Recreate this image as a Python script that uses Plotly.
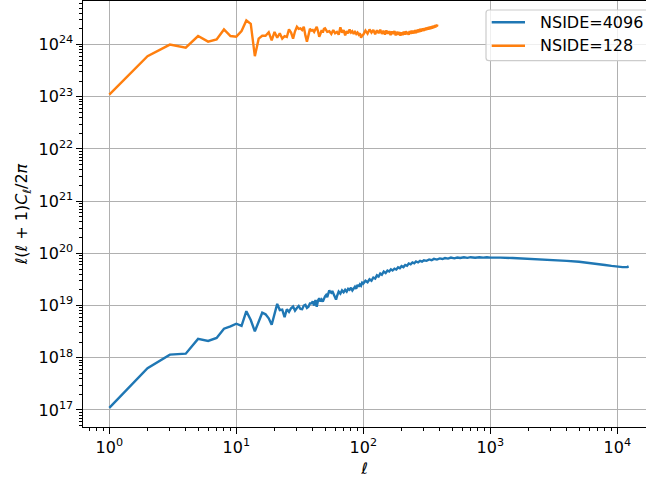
import plotly.graph_objects as go

# Angular power spectrum l(l+1)C_l/2pi for two HEALPix resolutions
ell_4096 = [1, 2, 3, 4, 5, 6, 7, 8, 9, 10, 11, 12, 13, 14, 15, 16, 17, 18, 19, 20,
            21, 22, 23, 24, 25, 26, 27, 28, 29, 30, 31, 32, 33, 34, 35, 36, 37, 38, 39, 40,
            41, 42, 43, 44, 45, 46, 47, 48, 49, 50, 51, 52, 53, 54, 55, 56, 57, 58, 59, 60,
            61, 62, 63, 64, 66, 68, 70, 72, 74, 76, 78, 80, 82, 84, 86, 88, 90, 92, 94, 96,
            98, 100, 104, 108, 112, 116, 120, 124, 128, 132, 136, 140, 145, 150, 155, 160,
            165, 170, 176, 182, 188, 194, 200, 207, 214, 221, 228, 236, 244, 252, 260, 270,
            280, 290, 300, 315, 330, 345, 360, 380, 400, 420, 440, 465, 490, 520, 550, 580,
            620, 660, 700, 760, 820, 880, 940, 1000, 1100, 1200, 1500, 2000, 3000, 4000,
            5000, 6000, 7000, 8000, 9000, 10000, 11000, 12000, 12287]
cl_4096 = [1.1e17, 6.3e17, 1.15e18, 1.2e18, 2.3e18, 2.1e18, 2.4e18, 3.6e18, 4.0e18, 4.5e18,
           4.1e18, 7.8e18, 5.3e18, 3.2e18, 4.9e18, 7.3e18, 6.8e18, 5.7e18, 4.3e18, 7.0e18,
           1.08e19, 8.2e18, 8.4e18, 6.0e18, 8.5e18, 7.6e18, 8.9e18, 9.6e18, 8.0e18, 9.0e18,
           9.8e18, 8.6e18, 8.5e18, 1.0e19, 1.03e19, 9.0e18, 9.5e18, 1.1e19, 1.1e19, 1.2e19,
           1.0e19, 1.28e19, 9.5e18, 1.25e19, 1.38e19, 1.2e19, 1.3e19, 1.19e19, 1.4e19, 1.5e19,
           1.6e19, 1.45e19, 1.7e19, 1.95e19, 1.8e19, 1.75e19, 1.9e19, 1.72e19, 1.6e19, 1.45e19,
           1.3e19, 1.5e19, 1.75e19, 1.85e19, 1.7e19, 1.95e19, 1.8e19, 2.0e19, 1.85e19, 2.1e19,
           2.0e19, 2.2e19, 1.95e19, 2.15e19, 2.3e19, 2.1e19, 2.5e19, 2.3e19, 2.55e19, 2.4e19,
           2.75e19, 2.65e19, 3.0e19, 2.8e19, 3.2e19, 3.0e19, 3.45e19, 3.3e19, 3.8e19, 3.6e19,
           4.1e19, 3.9e19, 4.5e19, 4.2e19, 4.7e19, 4.5e19, 4.95e19, 4.7e19, 5.1e19, 4.9e19,
           5.4e19, 5.2e19, 5.7e19, 5.45e19, 6.0e19, 5.8e19, 6.4e19, 6.15e19, 6.7e19, 6.45e19,
           7.0e19, 6.7e19, 7.2e19, 6.95e19, 7.4e19, 7.2e19, 7.65e19, 7.4e19, 7.85e19, 7.6e19,
           8.0e19, 7.8e19, 8.15e19, 7.95e19, 8.3e19, 8.05e19, 8.35e19, 8.15e19, 8.4e19, 8.2e19,
           8.45e19, 8.25e19, 8.45e19, 8.3e19, 8.45e19, 8.3e19, 8.4e19, 8.3e19, 8.15e19, 7.9e19,
           7.6e19, 7.2e19, 6.9e19, 6.6e19, 6.3e19, 6.0e19, 5.75e19, 5.55e19, 5.45e19, 5.5e19,
           5.65e19]

ell_128 = [1, 2, 3, 4, 5, 6, 7, 8, 9, 10, 11, 12, 13, 14, 15, 16, 17, 18, 19, 20,
           21, 22, 23, 24, 25, 26, 27, 28, 29, 30, 31, 32, 33, 34, 35, 36, 37, 38, 39, 40,
           41, 42, 43, 44, 45, 46, 47, 48, 49, 50, 52, 54, 56, 58, 60, 62, 64, 66, 68, 70,
           72, 74, 76, 78, 80, 82, 84, 86, 88, 90, 92, 94, 96, 98,
           100, 104, 108, 112, 116, 120, 124, 128, 132, 136, 140, 144, 148, 152, 156, 160,
           164, 168, 172, 176, 180, 184, 188, 192, 196, 200, 204, 208, 212, 216, 220, 224,
           228, 232, 236, 240, 244, 248, 252, 256, 260, 264, 268, 272, 276, 280, 284, 288,
           292, 296, 300, 304, 308, 312, 316, 320, 324, 328, 332, 336, 340, 344, 348, 352,
           356, 360, 364, 368, 372, 376, 380, 383]
cl_128 = [1.1e23, 6.0e23, 1.0e24, 8.7e23, 1.46e24, 1.14e24, 1.26e24, 1.95e24, 1.46e24, 1.42e24,
          1.82e24, 2.9e24, 2.5e24, 6.0e23, 1.3e24, 1.48e24, 1.48e24, 1.72e24, 1.2e24, 1.75e24,
          1.35e24, 1.65e24, 1.3e24, 1.45e24, 1.4e24, 1.95e24, 1.7e24, 1.3e24, 1.8e24, 2.2e24,
          2.0e24, 2.05e24, 1.9e24, 2.2e24, 1.5e24, 1.14e24, 1.5e24, 2.0e24, 1.85e24, 1.9e24,
          1.75e24, 2.05e24, 2.2e24, 1.8e24, 1.42e24, 1.6e24, 1.9e24, 1.7e24, 2.0e24, 2.05e24,
          1.75e24, 1.8e24, 1.6e24, 1.9e24, 1.65e24, 1.75e24, 1.55e24, 2.15e24, 1.7e24, 1.9e24,
          1.5e24, 1.8e24, 1.65e24, 1.95e24, 1.7e24, 1.8e24, 1.6e24, 1.75e24, 1.6e24, 1.7e24,
          1.55e24, 1.65e24, 1.35e24, 1.5e24,
          1.55e24, 1.85e24, 1.62e24, 1.95e24, 1.7e24, 1.9e24, 1.58e24, 1.88e24, 1.66e24, 1.92e24,
          1.6e24, 1.84e24, 1.55e24, 1.86e24, 1.62e24, 1.8e24, 1.52e24, 1.78e24, 1.6e24, 1.82e24,
          1.5e24, 1.76e24, 1.55e24, 1.74e24, 1.48e24, 1.72e24, 1.52e24, 1.78e24, 1.55e24, 1.8e24,
          1.58e24, 1.76e24, 1.54e24, 1.82e24, 1.6e24, 1.85e24, 1.62e24, 1.86e24, 1.64e24, 1.9e24,
          1.66e24, 1.92e24, 1.7e24, 1.96e24, 1.72e24, 2.0e24, 1.76e24, 2.02e24, 1.8e24, 2.05e24,
          1.82e24, 2.08e24, 1.86e24, 2.12e24, 1.9e24, 2.15e24, 1.92e24, 2.2e24, 1.95e24, 2.22e24,
          1.98e24, 2.25e24, 2.02e24, 2.3e24, 2.05e24, 2.32e24, 2.1e24, 2.38e24, 2.15e24, 2.4e24,
          2.22e24, 2.42e24]

series_names = ["NSIDE=4096", "NSIDE=128"]
series_colors = ["#1f77b4", "#ff7f0e"]

x_exponents = [0, 1, 2, 3, 4]
y_exponents = [17, 18, 19, 20, 21, 22, 23, 24]

FONT = "DejaVu Sans"
FS = 16
BLACK = "black"
W, H = 646, 482
M_L, M_R, M_T, M_B = 83, 0, 1, 55


def decade_labels(exps):
    return [10.0 ** e for e in exps], [f"10<sup>{e}</sup>" for e in exps]


def minor_values(lo, hi):
    return [m * 10.0 ** k for k in range(lo, hi + 1) for m in range(2, 10)]


# pixel -> paper helpers for the legend box placed in the upper right corner
def px(p):
    return (p - M_L) / (W - M_L - M_R)


def py(p):
    return (H - M_B - p) / (H - M_T - M_B)


fig = go.Figure()
fig.add_trace(go.Scatter(x=ell_4096, y=cl_4096, mode="lines", name=series_names[0],
                         line=dict(color=series_colors[0], width=2.4)))
fig.add_trace(go.Scatter(x=ell_128, y=cl_128, mode="lines", name=series_names[1],
                         line=dict(color=series_colors[1], width=2.4)))

xt_vals, xt_text = decade_labels(x_exponents)
yt_vals, yt_text = decade_labels(y_exponents)

axis_common = dict(
    type="log",
    showline=True, linecolor=BLACK, linewidth=1.2, mirror=True,
    ticks="outside", ticklen=5.5, tickwidth=1.2, tickcolor=BLACK,
    showgrid=True, gridcolor="#b0b0b0", gridwidth=1.2,
    zeroline=False,
    tickfont=dict(family=FONT, size=FS, color=BLACK),
)
minor_common = dict(tickmode="array", ticks="outside", ticklen=3.2, tickwidth=0.9,
                    tickcolor=BLACK, showgrid=False)

fig.update_xaxes(
    **axis_common,
    range=[-0.207, 4.226],
    tickmode="array", tickvals=xt_vals, ticktext=xt_text,
    minor=dict(tickvals=minor_values(-1, 4), **minor_common),
    title=dict(text="<i>ℓ</i>", font=dict(family=FONT, size=FS, color=BLACK), standoff=7),
)
fig.update_yaxes(
    **axis_common,
    range=[16.674, 24.835],
    tickmode="array", tickvals=yt_vals, ticktext=yt_text,
    minor=dict(tickvals=minor_values(16, 24), **minor_common),
    title=dict(text="<i>ℓ</i>(<i>ℓ</i> + 1)<i>C</i><sub><i>ℓ</i></sub>/2<i>π</i>",
               font=dict(family=FONT, size=FS, color=BLACK), standoff=6),
)

# Legend: rounded frame, line keys and labels
box_l, box_t, box_r, box_b, rad = 486, 10, 665, 60.7, 3
frame = (f"M {px(box_l + rad)},{py(box_t)} L {px(box_r)},{py(box_t)} "
         f"L {px(box_r)},{py(box_b)} L {px(box_l + rad)},{py(box_b)} "
         f"Q {px(box_l)},{py(box_b)} {px(box_l)},{py(box_b - rad)} "
         f"L {px(box_l)},{py(box_t + rad)} "
         f"Q {px(box_l)},{py(box_t)} {px(box_l + rad)},{py(box_t)} Z")
shapes = [dict(type="path", path=frame, xref="paper", yref="paper", layer="above",
               fillcolor="rgba(255,255,255,0.8)", line=dict(color="#cccccc", width=1.2))]
annotations = []
for i, (name, color) in enumerate(zip(series_names, series_colors)):
    row_y = 22.3 + 23.4 * i
    shapes.append(dict(type="line", xref="paper", yref="paper", layer="above",
                       x0=px(491.7), x1=px(525), y0=py(row_y), y1=py(row_y),
                       line=dict(color=color, width=2.4)))
    annotations.append(dict(text=name, xref="paper", yref="paper", x=px(538), y=py(row_y),
                            xanchor="left", yanchor="middle", showarrow=False,
                            font=dict(family=FONT, size=FS, color=BLACK)))

fig.update_layout(
    width=W, height=H,
    margin=dict(l=M_L, r=M_R, t=M_T, b=M_B),
    paper_bgcolor="white", plot_bgcolor="white",
    font=dict(family=FONT, size=FS, color=BLACK),
    showlegend=False,
    shapes=shapes,
    annotations=annotations,
)

fig.write_html("out.html")
